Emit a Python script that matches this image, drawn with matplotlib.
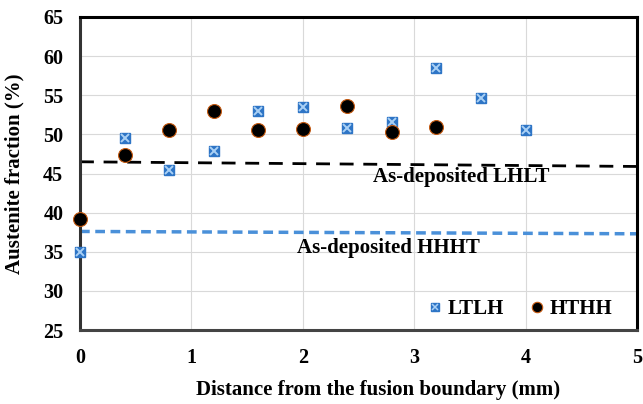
import matplotlib
matplotlib.use("Agg")
import matplotlib.pyplot as plt
from matplotlib.lines import Line2D

plt.rcParams['font.family'] = ['Liberation Serif', 'DejaVu Serif']
plt.rcParams['font.weight'] = 'bold'

ltlh_x = [0, 0.4, 0.8, 1.2, 1.6, 2.0, 2.4, 2.8, 3.2, 3.6, 4.0]
ltlh_y = [35.0, 49.5, 45.4, 47.9, 53.0, 53.5, 50.8, 51.6, 58.5, 54.7, 50.5]
hthh_x = [0, 0.4, 0.8, 1.2, 1.6, 2.0, 2.4, 2.8, 3.2]
hthh_y = [39.2, 47.4, 50.5, 53.0, 50.5, 50.7, 53.6, 50.3, 51.0]
lhlt_line_x = [0, 5]
lhlt_line_y = [46.5, 45.9]
hhht_line_x = [0, 5]
hhht_line_y = [37.6, 37.3]

fig = plt.figure(figsize=(6.43, 4.04), dpi=100)
ax = fig.add_axes([0.1244, 0.183, 0.8663, 0.775])
ax.set_xlim(0, 5)
ax.set_ylim(25, 65)
ax.set_xticks([0, 1, 2, 3, 4, 5])
ax.set_yticks(range(25, 66, 5))
ax.grid(True, color='#d9d9d9', linewidth=0.8)
ax.set_axisbelow(True)
for s in ax.spines.values():
    s.set_linewidth(2.2)
    s.set_color('black')
ax.spines['bottom'].set_color('#444444')
ax.spines['left'].set_color('#333333')
ax.tick_params(length=0, labelsize=14.5)
ax.tick_params(axis='x', pad=13)
ax.tick_params(axis='y', pad=12)
for lab in ax.get_xticklabels() + ax.get_yticklabels():
    lab.set_fontweight('bold')

ax.plot(lhlt_line_x, lhlt_line_y, ls=(0, (5, 3.5)), color='black', lw=2, clip_on=False)
ax.plot(hhht_line_x, hhht_line_y, ls=(0, (2.8, 1.6)), color='#4a90d9', lw=2.5, clip_on=False)

ax.plot(ltlh_x, ltlh_y, ls='none', marker='s', ms=7.5, mfc='#2e75c6', mec='#2e75c6', clip_on=False, zorder=5)
ax.plot(ltlh_x, ltlh_y, ls='none', marker='x', ms=5.5, mew=1.4, color='#a9d0f5', clip_on=False, zorder=6)
ax.plot(hthh_x, hthh_y, ls='none', marker='o', ms=10, mfc='black', mec='#c55a11', mew=0.8, clip_on=False, zorder=7)

ax.text(3.42, 44.55, 'As-deposited LHLT', ha='center', va='center', fontsize=15, fontweight='bold')
ax.text(2.77, 35.5, 'As-deposited HHHT', ha='center', va='center', fontsize=15, fontweight='bold')

h1 = (Line2D([], [], ls='none', marker='s', ms=5.5, mfc='#2e75c6', mec='#2e75c6'),
      Line2D([], [], ls='none', marker='x', ms=4, mew=1.1, color='#a9d0f5'))
h2 = Line2D([], [], ls='none', marker='o', ms=7.5, mfc='black', mec='#c55a11', mew=0.8)
ax.legend([h1, h2], ['LTLH', 'HTHH'], loc='lower right', ncol=2, frameon=False,
          prop={'size': 15, 'weight': 'bold'}, handlelength=0.6, handletextpad=0.3,
          columnspacing=1.3, bbox_to_anchor=(0.99, -0.025))

ax.set_xlabel('Distance from the fusion boundary (mm)', fontsize=15, fontweight='bold')
ax.xaxis.set_label_coords(0.535, -0.16)
ax.set_ylabel('Austenite fraction (%)', fontsize=15, fontweight='bold')
ax.yaxis.set_label_coords(-0.10, 0.5)

fig.savefig('out.png', dpi=100)
